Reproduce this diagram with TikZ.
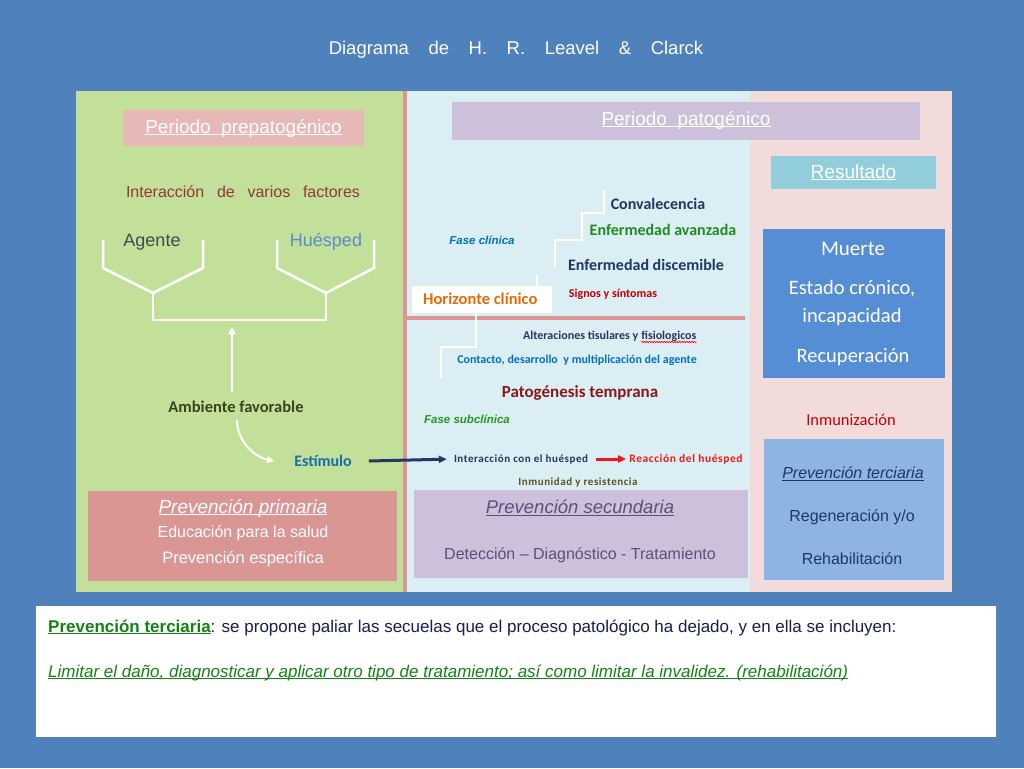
\documentclass[tikz,border=0pt]{standalone}
\usepackage{fontspec}
\setmainfont{Liberation Sans}
\newfontfamily\calfont{Carlito}
\newfontfamily\calwide[LetterSpace=5]{Carlito}
\usetikzlibrary{arrows.meta,decorations.pathmorphing}

\definecolor{slideblue}{RGB}{79,129,189}
\definecolor{greenpanel}{RGB}{195,224,155}
\definecolor{bluepanel}{RGB}{219,238,244}
\definecolor{pinkpanel}{RGB}{242,220,219}
\definecolor{redline}{RGB}{217,150,148}
\definecolor{pinkbox}{RGB}{230,184,183}
\definecolor{primbox}{RGB}{218,150,148}
\definecolor{lavbox}{RGB}{204,192,218}
\definecolor{cyanbox}{RGB}{146,205,220}
\definecolor{resbox}{RGB}{85,142,213}
\definecolor{terbox}{RGB}{141,180,226}
\definecolor{brownred}{RGB}{150,55,52}
\definecolor{darkgray}{RGB}{70,72,80}
\definecolor{hostblue}{RGB}{90,140,205}
\definecolor{olive}{RGB}{58,68,28}
\definecolor{teal}{RGB}{23,110,170}
\definecolor{navy}{RGB}{31,56,100}
\definecolor{dkgreen}{RGB}{30,140,30}
\definecolor{dkred}{RGB}{192,0,0}
\definecolor{slate}{RGB}{40,55,90}
\definecolor{midblue}{RGB}{0,112,192}
\definecolor{maroon}{RGB}{135,25,25}
\definecolor{grass}{RGB}{40,150,30}
\definecolor{brightred}{RGB}{240,25,25}
\definecolor{mud}{RGB}{90,85,35}
\definecolor{orange}{RGB}{228,108,10}
\definecolor{purplegray}{RGB}{96,78,122}
\definecolor{ink}{RGB}{23,30,80}
\definecolor{textgreen}{RGB}{20,130,20}

\newcommand\fsz[1]{\fontsize{#1}{#1}\selectfont}
\newcommand\undl[1]{\setbox0\hbox{#1}\rlap{\rule[-1.8pt]{\wd0}{0.9pt}}\box0}

\begin{document}
\begin{tikzpicture}[x=1pt,y=-1pt,
  box/.style={fill=#1,draw=none,inner sep=0},
  cal/.style={inner sep=1pt,font=\calfont\bfseries\fsz{#1}},
  calw/.style={inner sep=1pt,font=\calwide\bfseries\fsz{#1}},
  cr/.style={inner sep=1pt,font=\calfont\fsz{#1}},
  ar/.style={inner sep=1pt,font=\fsz{#1}},
  ari/.style={inner sep=1pt,font=\itshape\fsz{#1}},
  whiteline/.style={draw=white,line width=2.5pt},
  warrow/.style={draw=white,line width=2pt,-{Triangle[length=7pt,width=7pt]}},
]
  \useasboundingbox (0,0) rectangle (1024,768);
  \fill[slideblue] (0,0) rectangle (1024,768);
  \node[ar=18.5,text=white] (title) at (516,50)
    {Diagrama\hspace{0.78em} de\hspace{0.78em} H.\hspace{0.78em} R.\hspace{0.78em} Leavel\hspace{0.78em} \&\hspace{0.78em} Clarck};

  % panels
  \fill[greenpanel] (76,91) rectangle (405,592);
  \fill[bluepanel] (405,91) rectangle (750,592);
  \fill[pinkpanel] (750,91) rectangle (952,592);
  \draw[redline,line width=3.5pt] (405,91) -- (405,592);
  \draw[redline,line width=4pt] (407,318) -- (745,318);

  % periodo prepatogenico
  \node[box=pinkbox,minimum width=241,minimum height=36,text=white,font=\fsz{19}]
    (prepat) at (243.5,128) {\undl{Periodo\ \ prepatogénico}};
  \node[ar=16,text=brownred] (interac) at (243,192)
    {Interacción\hspace{0.52em} de\hspace{0.52em} varios\hspace{0.52em} factores};
  \node[ar=18,text=darkgray] (agente) at (152,242) {Agente};
  \node[ar=18,text=hostblue] (huesped) at (326,242) {Huésped};
  \draw[whiteline] (103,240) -- (103,268) -- (153,293) -- (203,268) -- (203,240);
  \draw[whiteline] (277,240) -- (277,268) -- (326,293) -- (374,268) -- (374,240);
  \draw[whiteline] (153,293) -- (153,320) -- (326,320) -- (326,293);
  \coordinate (bar) at (232,327);
  \node[cal=16.5,text=olive] (amb) at (236,407) {Ambiente favorable};
  \node[cal=16,text=teal] (stim) at (323,461) {Estímulo};
  \draw[warrow,shorten <=8pt] (amb.north -| bar) -- (bar);
  \draw[warrow] ([xshift=1pt,yshift=-6pt]amb.south) .. controls +(0,24) and +(-16,-3) .. ([xshift=-19pt]stim.west);

  \node[box=primbox,minimum width=309,minimum height=90] (primaria) at (242.5,536) {};
  \node[ari=19,text=white] (prim1) at (243,508) {\undl{Prevención primaria}};
  \node[ar=16,text=white] (prim2) at (243,533) {Educación para la salud};
  \node[ar=16.5,text=white] (prim3) at (243,559) {Prevención específica};

  % periodo patogenico
  \node[box=lavbox,minimum width=468,minimum height=38,text=white,font=\fsz{19}]
    (patbox) at (686,120.5) {\undl{Periodo\ \ patogénico}};
  \draw[whiteline] (604,190) -- (604,213) -- (582,213) -- (582,240) -- (555,240) -- (555,267);
  \draw[whiteline] (537,275) -- (537,300);
  \draw[whiteline] (476,313) -- (476,347) -- (441,347) -- (441,378);
  \node[inner sep=1pt,font=\bfseries\itshape\fsz{11.5},text=midblue] (fclin) at (482,240) {Fase clínica};
  \node[cal=16,text=navy] (conval) at (658,204) {Convalecencia};
  \node[cal=16,text=dkgreen] (enfav) at (663,230) {Enfermedad avanzada};
  \node[cal=16,text=navy] (endisc) at (646,265) {Enfermedad discemible};
  \node[cal=12,text=dkred] (signos) at (613,294) {Signos y síntomas};
  \node[box=white,minimum width=140,minimum height=27] (horizbox) at (482,299.5) {};
  \node[cal=16.5,text=orange,anchor=west] (horiz) at (422,299) {Horizonte clínico};

  \node[cal=12,text=slate,anchor=base west,inner sep=0] (alter) at (523,339) {Alteraciones tisulares y};
  \node[cal=12,text=slate,anchor=base west,inner sep=0] (fisio) at ([xshift=2.7pt]alter.base east) {fisiologicos};
  \draw[red,line width=0.6pt,decorate,decoration={snake,amplitude=0.7pt,segment length=2.5pt}]
    ([yshift=-3pt]fisio.base west) -- ([yshift=-3pt]fisio.base east);
  \node[cal=12,text=midblue] (contacto) at (577,360) {Contacto, desarrollo\ \ y multiplicación del agente};
  \node[cal=17,text=maroon] (patog) at (580,393) {Patogénesis temprana};
  \node[inner sep=1pt,font=\bfseries\itshape\fsz{11.5},text=grass] (fsub) at (467,419) {Fase subclínica};
  \node[calw=11,text=navy] (inter) at (521,459) {Interacción con el huésped};
  \node[calw=11.5,text=brightred] (reac) at (686,459) {Reacción del huésped};
  \node[calw=11,text=mud] (inmun) at (578,482) {Inmunidad y resistencia};
  \draw[navy,line width=3pt,-{Triangle[length=8pt,width=7pt]},shorten >=6pt]
    ([xshift=16pt]stim.east) -- (inter.west);
  \draw[brightred,line width=3pt,-{Triangle[length=8pt,width=7pt]},shorten >=2pt]
    ([xshift=7pt]inter.east) -- (reac.west);

  \node[box=lavbox,minimum width=334,minimum height=88] (secbox) at (581,534) {};
  \node[ari=18.5,text=purplegray] (sec1) at (580,508) {\undl{Prevención secundaria}};
  \node[ar=16,text=purplegray] (sec2) at (580,555) {Detección – Diagnóstico - Tratamiento};

  % resultado
  \node[box=cyanbox,minimum width=165,minimum height=33,text=white,font=\fsz{19}]
    (resul) at (853.5,172.5) {\undl{Resultado}};
  \node[box=resbox,minimum width=182,minimum height=149] (result) at (854,303.5) {};
  \node[cr=21,text=white] (muerte) at (853,249) {Muerte};
  \node[cr=20.5,text=white] (cronico) at (852,289) {Estado crónico,};
  \node[cr=20.5,text=white] (incap) at (852,317) {incapacidad};
  \node[cr=20.5,text=white] (recup) at (853,357) {Recuperación};
  \node[cr=16.5,text=dkred] (inmuniz) at (851,420) {Inmunización};
  \node[box=terbox,minimum width=180,minimum height=141] (tercbox) at (854,509.5) {};
  \node[ari=16,text=navy] (ter1) at (853,474) {\undl{Prevención terciaria}};
  \node[ar=16,text=navy] (ter2) at (852,517) {Regeneración y/o};
  \node[ar=16,text=navy] (ter3) at (852,559) {Rehabilitación};

  % nota
  \node[box=white,minimum width=960,minimum height=131] (nota) at (516,671.5) {};
  \node[ar=17,text=ink,anchor=west] (nota1) at (47,628)
    {{\color{textgreen}\undl{\bfseries Prevención terciaria}}: se propone paliar las secuelas que el proceso patológico ha dejado, y en ella se incluyen:};
  \node[ari=17,text=textgreen,anchor=west] (nota2) at (47,673)
    {\undl{Limitar el daño, diagnosticar y aplicar otro tipo de tratamiento; así como limitar la invalidez. (rehabilitación)}};
\end{tikzpicture}
\end{document}
